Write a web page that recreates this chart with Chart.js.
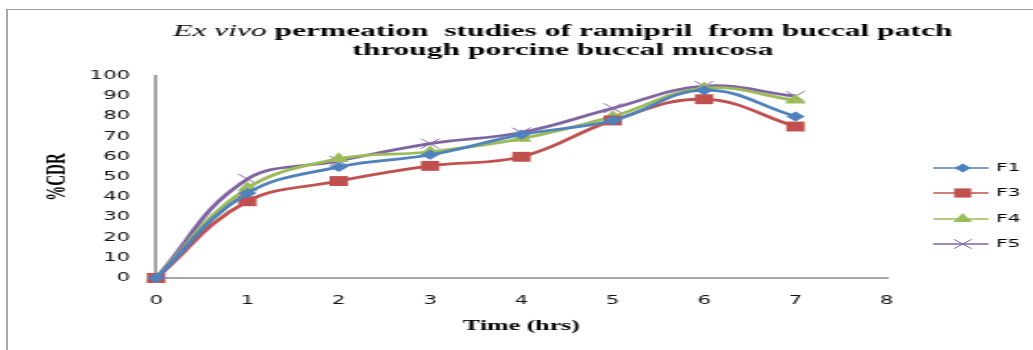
<!DOCTYPE html>
<html>
<head>
<meta charset="utf-8">
<title>Ex vivo permeation of ramipril</title>
<script src="https://cdn.jsdelivr.net/npm/chart.js@4.4.1/dist/chart.umd.min.js"></script>
<style>
  html, body { margin: 0; padding: 0; background: #fff; width: 1033px; height: 350px; overflow: hidden; }
  /* chart is drawn narrow and stretched sideways */
  #wrap { position: absolute; left: 0; top: 0; width: 558px; height: 350px; transform: scaleX(1.8513); transform-origin: 0 0; }
  #frame { position: absolute; left: 6px; top: 9px; width: 1060px; height: 380px; border-left: 2px solid #a8a8a8; border-top: 1px solid #9c9c9c; }
</style>
</head>
<body>
<div id="wrap"><canvas id="cdr" width="558" height="350"></canvas></div>
<div id="frame"></div>
<script>
// time points (hrs) and % cumulative drug release per formulation
var hours = [0, 1, 2, 3, 4, 5, 6, 7];
var f1 = [0, 42, 55, 61, 71, 78, 93, 80];
var f3 = [0, 38, 48, 55.5, 60, 78, 88.5, 75];
var f4 = [0, 44.5, 59, 62.5, 69, 80, 94, 88];
var f5 = [0, 49, 58, 66.5, 72, 84, 95, 90];

var xTicks = [0, 1, 2, 3, 4, 5, 6, 7, 8];
var yTicks = [0, 10, 20, 30, 40, 50, 60, 70, 80, 90, 100];

function pts(vals) {
    return vals.map(function (v, i) { return { x: hours[i], y: v }; });
}

function series(label, vals, color, style, radius) {
    return {
        label: label,
        data: pts(vals),
        borderColor: color,
        backgroundColor: color,
        borderWidth: 2.75,
        tension: 0.4,
        clip: false,
        pointStyle: style,
        pointRadius: radius,
        pointBorderWidth: style === 'crossRot' ? 1 : 0,
        pointBackgroundColor: color,
        pointBorderColor: color
    };
}

var datasets = [
    series('F1', f1, '#4f81bd', 'rectRot', 5),
    series('F3', f3, '#c0504d', 'rect', 7),
    series('F4', f4, '#9bbb59', 'triangle', 6.5),
    series('F5', f5, '#8064a2', 'crossRot', 7)
];

// two-line heading with the italic "Ex vivo"
var headingPlugin = {
    id: 'heading',
    afterDraw: function (chart) {
        var ctx = chart.ctx;
        var lines = [
            [['Ex vivo', 'italic 17px "Liberation Serif"'], [' permeation  studies of ramipril  from buccal patch', 'bold 17px "Liberation Serif"']],
            [['through porcine buccal mucosa', 'bold 17px "Liberation Serif"']]
        ];
        var baselines = [36, 55];
        var cx = 304;
        ctx.save();
        ctx.fillStyle = '#000';
        ctx.textBaseline = 'alphabetic';
        ctx.textAlign = 'left';
        lines.forEach(function (parts, li) {
            var total = 0;
            parts.forEach(function (p) { ctx.font = p[1]; total += ctx.measureText(p[0]).width; });
            var x = cx - total / 2;
            parts.forEach(function (p) {
                ctx.font = p[1];
                ctx.fillText(p[0], x, baselines[li]);
                x += ctx.measureText(p[0]).width;
            });
        });
        ctx.restore();
    }
};

// legend on the right: short line with the marker in the middle
var sideLegendPlugin = {
    id: 'sideLegend',
    afterDraw: function (chart) {
        var ctx = chart.ctx;
        var rows = [168, 193, 219, 244];
        ctx.save();
        chart.data.datasets.forEach(function (ds, i) {
            var y = rows[i];
            ctx.strokeStyle = ds.borderColor;
            ctx.fillStyle = ds.borderColor;
            ctx.lineWidth = 1.5;
            ctx.beginPath();
            ctx.moveTo(504, y);
            ctx.lineTo(534, y);
            ctx.stroke();
            ctx.lineWidth = ds.pointBorderWidth || 1;
            Chart.helpers.drawPoint(ctx, {
                pointStyle: ds.pointStyle,
                radius: ds.pointRadius - 0.5,
                rotation: 0,
                borderWidth: ds.pointBorderWidth
            }, 520, y);
            ctx.fillStyle = '#000';
            ctx.font = '11px "DejaVu Sans"';
            ctx.textBaseline = 'middle';
            ctx.textAlign = 'left';
            ctx.fillText(ds.label, 538, y + 0.5);
        });
        ctx.restore();
    }
};

var ctx = document.getElementById('cdr').getContext('2d');
var chart = new Chart(ctx, {
    type: 'line',
    data: { datasets: datasets },
    plugins: [headingPlugin, sideLegendPlugin],
    options: {
        responsive: false,
        devicePixelRatio: 1,
        animation: false,
        layout: { padding: { top: 76, right: 79, left: 0, bottom: 0 } },
        plugins: {
            legend: { display: false },
            title: { display: false },
            tooltip: { enabled: false }
        },
        scales: {
            x: {
                type: 'linear',
                min: 0,
                max: 8,
                afterFit: function (s) { s.height = 72; },
                afterBuildTicks: function (s) { s.ticks = xTicks.map(function (v) { return { value: v }; }); },
                grid: { display: false, drawTicks: false },
                border: { display: true, color: '#a6a6a6', width: 2 },
                ticks: { color: '#111', padding: 16, font: { family: 'DejaVu Sans', size: 11.5 } },
                title: {
                    display: true,
                    text: 'Time (hrs)',
                    color: '#000',
                    font: { family: 'Liberation Serif', size: 14, weight: 'bold' },
                    padding: { top: 0, bottom: 15.6 }
                }
            },
            y: {
                min: 0,
                max: 100,
                afterFit: function (s) { s.width = 84.3; },
                afterBuildTicks: function (s) { s.ticks = yTicks.map(function (v) { return { value: v }; }); },
                grid: { display: false, drawTicks: false },
                border: { display: true, color: '#a6a6a6', width: 2 },
                ticks: { color: '#111', padding: 14, font: { family: 'DejaVu Sans', size: 11.5 } },
                title: {
                    display: true,
                    text: '%CDR',
                    color: '#000',
                    font: { family: 'Liberation Serif', size: 15, weight: 'bold' },
                    padding: { top: 21.8, bottom: 0 }
                }
            }
        }
    }
});
</script>
</body>
</html>
